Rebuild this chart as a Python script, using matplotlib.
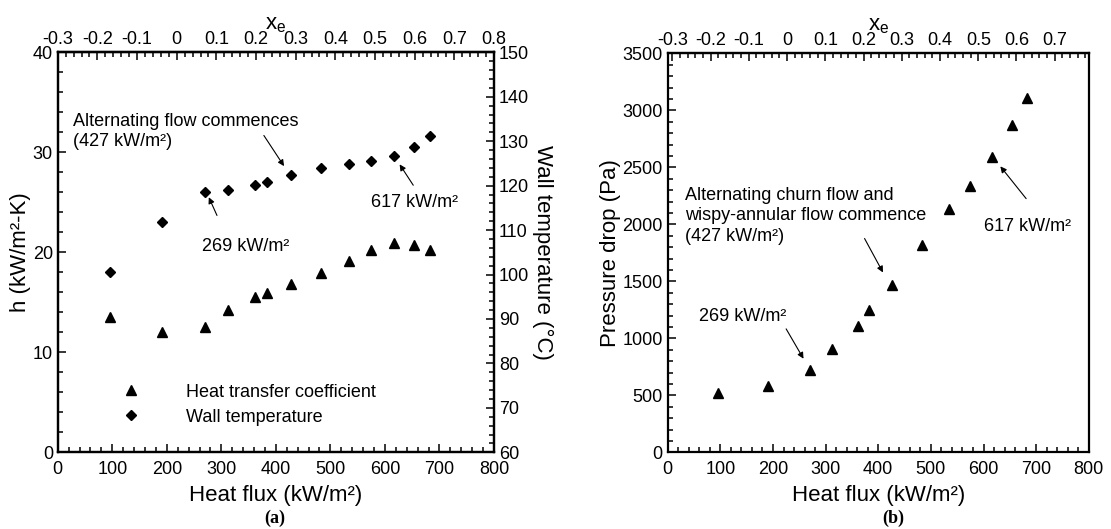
import numpy as np
import matplotlib as mpl
import matplotlib.pyplot as plt
from matplotlib.ticker import MultipleLocator, FuncFormatter
from matplotlib.lines import Line2D

mpl.rcParams['font.family'] = ['Liberation Sans', 'DejaVu Sans']
mpl.rcParams['axes.unicode_minus'] = False
mpl.rcParams['font.size'] = 13

# heat flux (kW/m^2) of each test
q_flux = [96, 191, 270, 313, 361, 383, 427, 483, 535, 574, 617, 654, 683]
# (a) heat transfer coefficient (kW/m^2-K) and wall temperature (C)
h_coef = [13.5, 12.0, 12.5, 14.2, 15.5, 15.9, 16.8, 17.9, 19.1, 20.2, 20.9, 20.7, 20.2]
t_wall = [100.5, 111.9, 118.5, 119.0, 120.1, 120.8, 122.4, 123.9, 124.9, 125.5, 126.7, 128.8, 131.1]
# (b) pressure drop (Pa)
dp = [518, 578, 718, 908, 1110, 1250, 1467, 1815, 2137, 2338, 2587, 2873, 3108]

# top-axis quality scales (x_e at q=0 and q=800)
xe_a = (-0.3, 0.8)
xe_b = (-0.312, 0.789)
xe_ticks_a = [-0.3, -0.2, -0.1, 0, 0.1, 0.2, 0.3, 0.4, 0.5, 0.6, 0.7, 0.8]
xe_ticks_b = [-0.3, -0.2, -0.1, 0, 0.1, 0.2, 0.3, 0.4, 0.5, 0.6, 0.7]

fig = plt.figure(figsize=(11.11, 5.29), dpi=100)

fmt = FuncFormatter(lambda v, p: '%g' % round(v, 3))


def style(ax):
    for s in ax.spines.values():
        s.set_linewidth(1.6)
    ax.tick_params(which='both', direction='in', width=1.1, labelsize=13)
    ax.tick_params(which='major', length=6)
    ax.tick_params(which='minor', length=3.5)
    ax.tick_params(axis='x', pad=6)


def add_top(ax, lims, ticks):
    lo, hi = lims
    fwd = lambda q: lo + np.asarray(q) * (hi - lo) / 800.0
    inv = lambda x: (np.asarray(x) - lo) * 800.0 / (hi - lo)
    sec = ax.secondary_xaxis('top', functions=(fwd, inv))
    sec.set_xticks(ticks)
    sec.xaxis.set_major_formatter(fmt)
    sec.xaxis.set_minor_locator(MultipleLocator(0.02))
    sec.tick_params(which='both', direction='in', width=1.1, labelsize=13, pad=3.5)
    sec.tick_params(which='major', length=6)
    sec.tick_params(which='minor', length=3.5)
    sec.spines['top'].set_linewidth(1.6)
    sec.set_xlabel('x$_\\mathregular{e}$', fontsize=16, labelpad=1)
    return sec


arrow = dict(arrowstyle='-|>', color='k', lw=0.8, mutation_scale=9, shrinkA=0, shrinkB=0)

# ---------------- (a) ----------------
ax = fig.add_axes([0.052, 0.145, 0.3926, 0.756])
ax.plot(q_flux, h_coef, '^', color='k', ms=7, ls='none')
ax.set_xlim(0, 800); ax.set_ylim(0, 40)
ax.xaxis.set_major_locator(MultipleLocator(100))
ax.xaxis.set_minor_locator(MultipleLocator(20))
ax.yaxis.set_major_locator(MultipleLocator(10))
ax.yaxis.set_minor_locator(MultipleLocator(2))
ax.tick_params(top=False, right=False)
style(ax)
ax.set_xlabel('Heat flux (kW/m²)', fontsize=16, labelpad=5)
ax.set_ylabel('h (kW/m²-K)', fontsize=16, labelpad=1)

ax2 = ax.twinx()
ax2.plot(q_flux, t_wall, 'D', color='k', ms=5.5, ls='none')
ax2.set_ylim(60, 150)
ax2.yaxis.set_major_locator(MultipleLocator(10))
ax2.yaxis.set_minor_locator(MultipleLocator(2))
style(ax2)
ax2.set_ylabel('Wall temperature (°C)', fontsize=16, rotation=-90, labelpad=17)
add_top(ax, xe_a, xe_ticks_a)

ax2.text(28, 132.2, 'Alternating flow commences\n(427 kW/m²)', ha='left', va='center',
         fontsize=13, linespacing=1.3)
ax2.annotate('', xy=(415, 124.4), xytext=(378, 131.3), arrowprops=arrow)
ax2.text(345, 106.4, '269 kW/m²', ha='center', va='center', fontsize=13)
ax2.annotate('', xy=(277, 117.4), xytext=(292, 113.3), arrowprops=arrow)
ax2.text(654, 116.3, '617 kW/m²', ha='center', va='center', fontsize=13)
ax2.annotate('', xy=(627, 124.8), xytext=(652, 120.1), arrowprops=arrow)

handles = [Line2D([], [], marker='^', color='k', ls='none', ms=7),
           Line2D([], [], marker='D', color='k', ls='none', ms=5.5)]
ax2.legend(handles, ['Heat transfer coefficient', 'Wall temperature'], loc='upper left',
           bbox_to_anchor=(0.13, 0.19), frameon=False, fontsize=13, handlelength=1.0,
           handletextpad=2.55, labelspacing=0.45, borderaxespad=0)

fig.text(0.2475, 0.02, '(a)', fontsize=13, fontweight='bold', family='Liberation Serif',
         ha='center', va='center')

# ---------------- (b) ----------------
bx = fig.add_axes([0.601, 0.145, 0.379, 0.754])
bx.plot(q_flux, dp, '^', color='k', ms=7, ls='none')
bx.set_xlim(0, 800); bx.set_ylim(0, 3500)
bx.xaxis.set_major_locator(MultipleLocator(100))
bx.xaxis.set_minor_locator(MultipleLocator(20))
bx.yaxis.set_major_locator(MultipleLocator(500))
bx.yaxis.set_minor_locator(MultipleLocator(100))
style(bx)
bx.tick_params(which='both', top=False, right=False)
bx.set_xlabel('Heat flux (kW/m²)', fontsize=16, labelpad=5)
bx.set_ylabel('Pressure drop (Pa)', fontsize=16, labelpad=1)
add_top(bx, xe_b, xe_ticks_b)

bx.text(33, 2074, 'Alternating churn flow and\nwispy-annular flow commence\n(427 kW/m²)',
        ha='left', va='center', fontsize=13, linespacing=1.3)
bx.annotate('', xy=(409, 1578), xytext=(374, 1876), arrowprops=arrow)
bx.text(142, 1191, '269 kW/m²', ha='center', va='center', fontsize=13)
bx.annotate('', xy=(258, 821), xytext=(225, 1083), arrowprops=arrow)
bx.text(684, 1985, '617 kW/m²', ha='center', va='center', fontsize=13)
bx.annotate('', xy=(632, 2509), xytext=(681, 2226), arrowprops=arrow)

fig.text(0.804, 0.02, '(b)', fontsize=13, fontweight='bold', family='Liberation Serif',
         ha='center', va='center')

fig.savefig('out.png', dpi=100)
